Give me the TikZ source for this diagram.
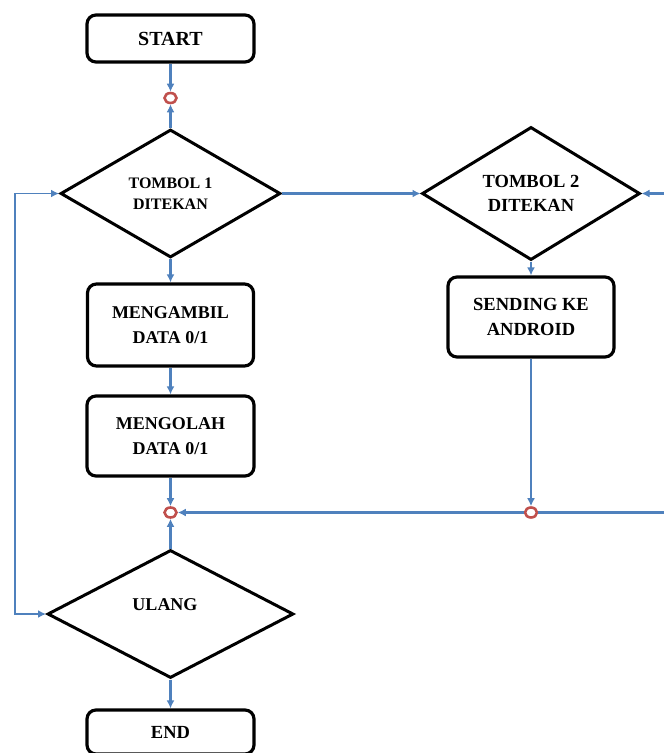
\documentclass[tikz,border=0pt]{standalone}
\usepackage{fontspec}
\setmainfont{Liberation Serif}
\usetikzlibrary{shapes.geometric,arrows.meta}
\definecolor{flowblue}{RGB}{79,129,189}
\definecolor{flowred}{RGB}{192,80,77}
\tikzset{
  procbox/.style={draw=black, line width=3.2pt, rounded corners=9pt, align=center, inner sep=0pt, font=\bfseries\fontsize{18}{25}\selectfont},
  decbox/.style={draw=black, line width=3pt, diamond, inner sep=0pt, align=center, font=\bfseries\fontsize{16}{20.5}\selectfont},
  joint/.style={draw=flowred, line width=2.6pt, ellipse, minimum width=12pt, minimum height=10pt, inner sep=0pt},
  flow/.style={draw=flowblue, line width=2.2pt, -{Latex[length=8pt,width=8pt]}},
  plainflow/.style={draw=flowblue, line width=2.2pt},
}
\begin{document}
\begin{tikzpicture}[x=1pt,y=-1pt]
\useasboundingbox (0,0) rectangle (664,753);
% boxes
\node[procbox, minimum width=167pt, minimum height=47pt, font=\bfseries\fontsize{20}{24}\selectfont] (start) at (170.5,38.5) {START};
\node[procbox, minimum width=166pt, minimum height=82pt] (ambil) at (170.5,325) {MENGAMBIL\\DATA 0/1};
\node[procbox, minimum width=167pt, minimum height=80pt] (olah) at (170.5,436) {MENGOLAH\\DATA 0/1};
\node[procbox, minimum width=166pt, minimum height=80pt, font=\bfseries\fontsize{18.5}{25}\selectfont] (send) at (531,317) {SENDING KE\\ANDROID};
\node[procbox, minimum width=167pt, minimum height=44pt, font=\bfseries\fontsize{18.5}{22}\selectfont] (end) at (170.5,732) {END};
% decisions
\node[decbox, minimum width=220pt, minimum height=128pt] (d1) at (170.5,193.5) {TOMBOL 1\\DITEKAN};
\node[decbox, minimum width=218pt, minimum height=130pt, font=\bfseries\fontsize{18.5}{24}\selectfont] (d2) at (531,193.5) {TOMBOL 2\\DITEKAN};
\node[decbox, minimum width=246pt, minimum height=128pt] (ulang) at (170.5,614) {};
\node[font=\bfseries\fontsize{18}{20}\selectfont] (ulangtxt) at (165,605) {ULANG};
% joints
\node[joint] (c1) at (170.5,98) {};
\node[joint] (c2) at (170.5,512.5) {};
\node[joint] (c3) at (531,512.5) {};
% free ends
\coordinate (rin) at (664,193.5);
\coordinate (rjoin) at (664,512.5);
\coordinate (ltop) at (15,193.5);
\coordinate (lbot) at (15,614);
% connectors
\draw[flow] (start.south) -- (c1.north);
\draw[flow] (d1.north) -- (c1.south);
\draw[flow] (d1.east) -- (d2.west);
\draw[flow] (rin) -- (d2.east);
\draw[flow] (d2.south) -- (send.north);
\draw[flow] (send.south) -- (c3.north);
\draw[plainflow] (rjoin) -- (c3.east);
\draw[flow] (c3.west) -- (c2.east);
\draw[flow] (d1.south) -- (ambil.north);
\draw[flow] (ambil.south) -- (olah.north);
\draw[flow] (olah.south) -- (c2.north);
\draw[flow] (ulang.north) -- (c2.south);
\draw[flow] (ulang.south) -- (end.north);
\draw[draw=flowblue, line width=1.8pt, {Latex[length=8pt,width=8pt]}-{Latex[length=8pt,width=8pt]}] (d1.west) -- (ltop) -- (lbot) -- (ulang.west);
\end{tikzpicture}
\end{document}
